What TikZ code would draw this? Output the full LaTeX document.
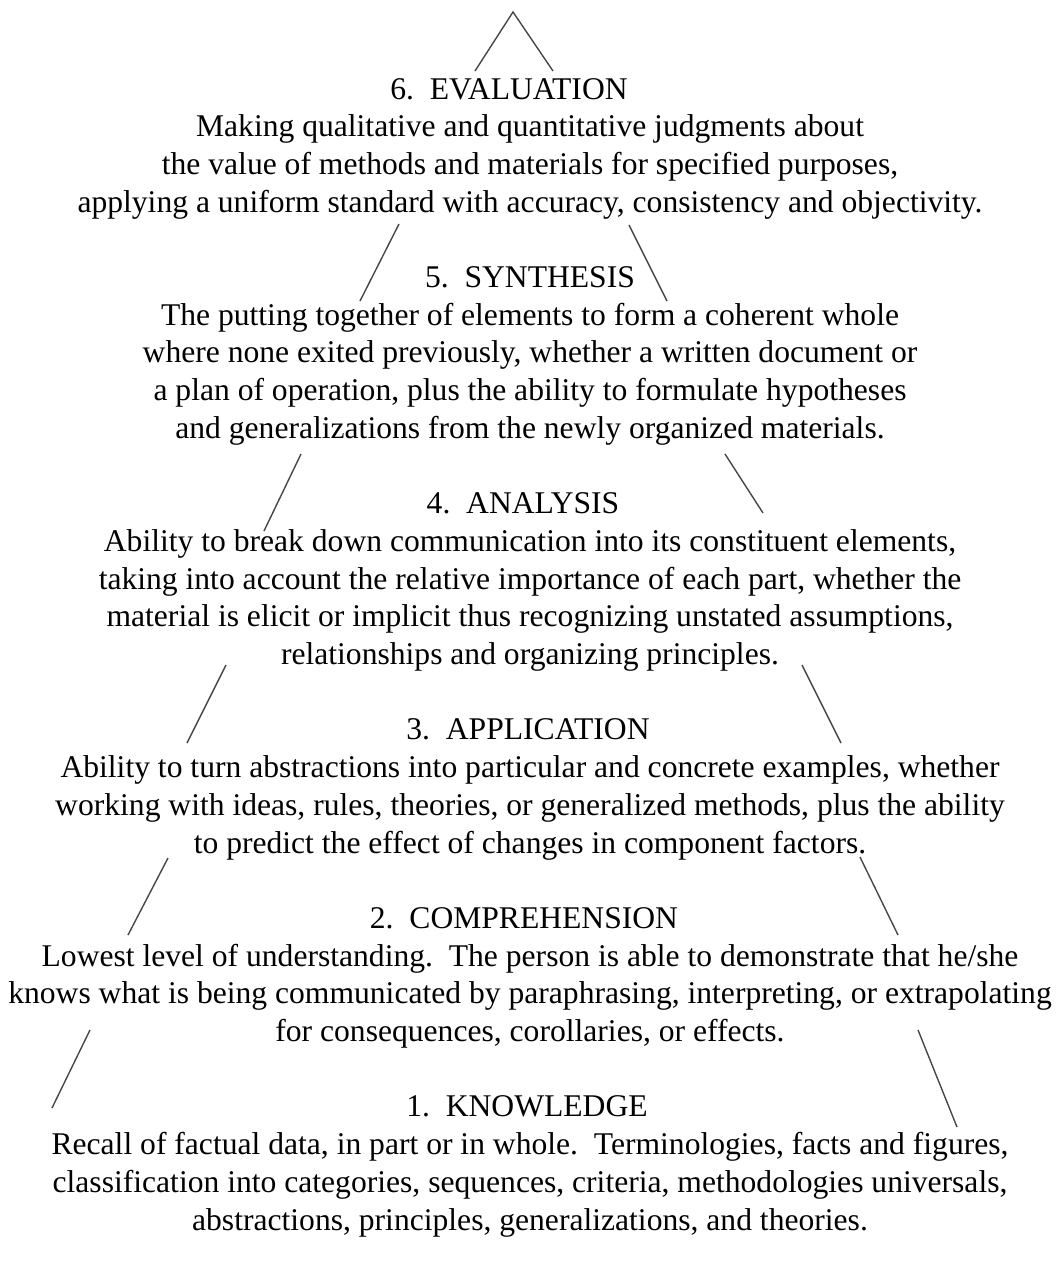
\documentclass[tikz,border=0pt]{standalone}
\usepackage{fontspec}
\setmainfont{Liberation Serif}
\frenchspacing

\tikzset{
  titletext/.style={anchor=base, inner sep=0pt, font=\fontsize{31.6}{37.7}\selectfont},
  bodytext/.style={anchor=base, inner sep=0pt, font=\fontsize{31.6}{37.7}\selectfont},
  edge/.style={draw=black!72, line width=1.4pt},
}

% One tier of the pyramid: #1 name, #2 index of the title line,
% #3 horizontal centre of the title, #4 title, #5 list of body lines.
\newcommand\tiertext[5]{%
  \node[titletext] (#1-t) at (#3, {99+37.7*#2}) {#4};
  \foreach \ln [count=\i] in {#5}
    \node[bodytext] (#1-\i) at (530, {99+37.7*(#2+\i)}) {\ln};
}

\begin{document}
\begin{tikzpicture}[x=1pt, y=-1pt]
  \fill[white] (0,0) rectangle (1058,1270);
  \useasboundingbox (0,0) rectangle (1058,1270);

  \tiertext{eval}{0}{509}{6.\ \ EVALUATION}{
    {Making qualitative and quantitative judgments about},
    {the value of methods and materials for specified purposes,},
    {applying a uniform standard with accuracy, consistency and objectivity.}}

  \tiertext{synth}{5}{530}{5.\ \ SYNTHESIS}{
    {The putting together of elements to form a coherent whole},
    {where none exited previously, whether a written document or},
    {a plan of operation, plus the ability to formulate hypotheses},
    {and generalizations from the newly organized materials.}}

  \tiertext{anal}{11}{523}{4.\ \ ANALYSIS}{
    {Ability to break down communication into its constituent elements,},
    {taking into account the relative importance of each part, whether the},
    {material is elicit or implicit thus recognizing unstated assumptions,},
    {relationships and organizing principles.}}

  \tiertext{appl}{17}{528}{3.\ \ APPLICATION}{
    {Ability to turn abstractions into particular and concrete examples, whether},
    {working with ideas, rules, theories, or generalized methods, plus the ability},
    {to predict the effect of changes in component factors.}}

  \tiertext{comp}{22}{524}{2.\ \ COMPREHENSION}{
    {Lowest level of understanding.\ \ The person is able to demonstrate that he/she},
    {knows what is being communicated by paraphrasing, interpreting, or extrapolating},
    {for consequences, corollaries, or effects.}}

  \tiertext{know}{27}{527}{1.\ \ KNOWLEDGE}{
    {Recall of factual data, in part or in whole.\ \ Terminologies, facts and figures,},
    {classification into categories, sequences, criteria, methodologies universals,},
    {abstractions, principles, generalizations, and theories.}}

  % sides of the pyramid, broken by the text of each tier
  \coordinate (apex) at (513,12);
  \coordinate (a1) at (475,71);   \coordinate (a2) at (553,71);
  \coordinate (l6t) at (399,224); \coordinate (l6b) at (360,301);
  \coordinate (r6t) at (629,225); \coordinate (r6b) at (667,301);
  \coordinate (l5t) at (301,454); \coordinate (l5b) at (264,531);
  \coordinate (r5t) at (725,454); \coordinate (r5b) at (763,513);
  \coordinate (l4t) at (226,665); \coordinate (l4b) at (187,743);
  \coordinate (r4t) at (802,665); \coordinate (r4b) at (841,743);
  \coordinate (l3t) at (168,858); \coordinate (l3b) at (128,935);
  \coordinate (r3t) at (860,857); \coordinate (r3b) at (898,935);
  \coordinate (l2t) at (90,1030); \coordinate (l2b) at (52,1108);
  \coordinate (r2t) at (918,1030); \coordinate (r2b) at (957,1127);

  \draw[edge] (a1) -- (apex) -- (a2);
  \draw[edge] (l6t) -- (l6b);  \draw[edge] (r6t) -- (r6b);
  \draw[edge] (l5t) -- (l5b);  \draw[edge] (r5t) -- (r5b);
  \draw[edge] (l4t) -- (l4b);  \draw[edge] (r4t) -- (r4b);
  \draw[edge] (l3t) -- (l3b);  \draw[edge] (r3t) -- (r3b);
  \draw[edge] (l2t) -- (l2b);  \draw[edge] (r2t) -- (r2b);
\end{tikzpicture}
\end{document}
